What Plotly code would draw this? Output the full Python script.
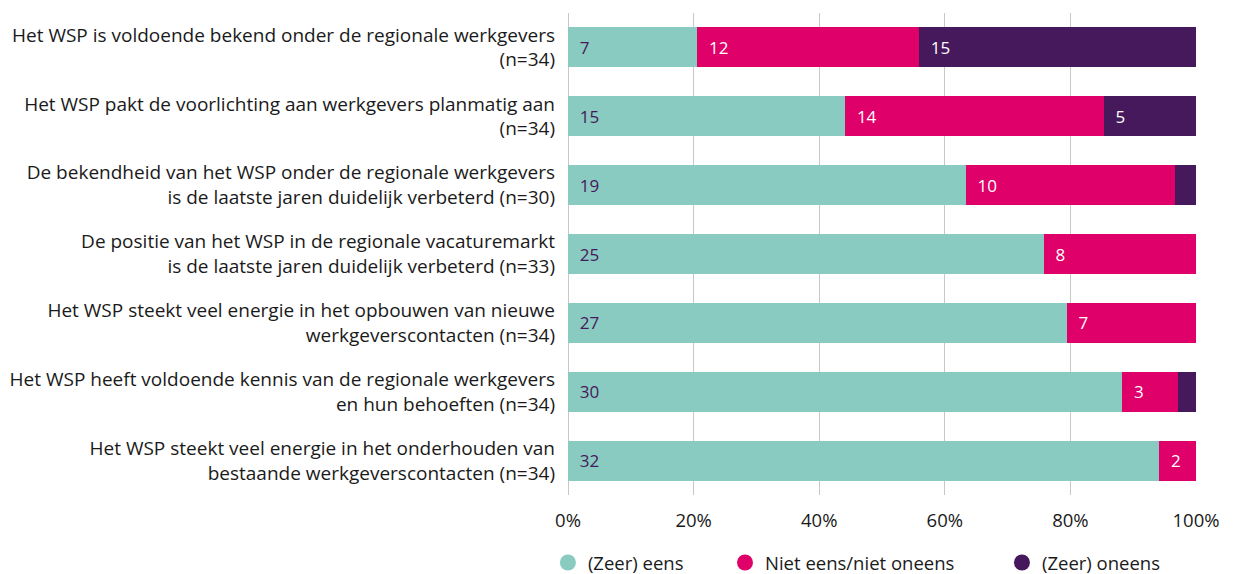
import plotly.graph_objects as go

categories = [
    "Het WSP is voldoende bekend onder de regionale werkgevers<br>(n=34)",
    "Het WSP pakt de voorlichting aan werkgevers planmatig aan<br>(n=34)",
    "De bekendheid van het WSP onder de regionale werkgevers<br>is de laatste jaren duidelijk verbeterd (n=30)",
    "De positie van het WSP in de regionale vacaturemarkt<br>is de laatste jaren duidelijk verbeterd (n=33)",
    "Het WSP steekt veel energie in het opbouwen van nieuwe<br>werkgeverscontacten (n=34)",
    "Het WSP heeft voldoende kennis van de regionale werkgevers<br>en hun behoeften (n=34)",
    "Het WSP steekt veel energie in het onderhouden van<br>bestaande werkgeverscontacten (n=34)",
]
eens = [7, 15, 19, 25, 27, 30, 32]
neutraal = [12, 14, 10, 8, 7, 3, 2]
oneens = [15, 5, 1, 0, 0, 1, 0]

tick_vals = [0, 20, 40, 60, 80, 100]
tick_text = ["0%", "20%", "40%", "60%", "80%", "100%"]

series_names = ["(Zeer) eens", "Niet eens/niet oneens", "(Zeer) oneens"]
colors = ["#89CBC0", "#E0006A", "#46185C"]
text_colors = ["#46185C", "#FFFFFF", "#FFFFFF"]
legend_ids = ["legend", "legend2", "legend3"]
legend_x = [-0.032, 0.25, 0.691]

FONT = "Open Sans"
PAD = "\u00a0\u00a0"

fig = go.Figure()
for name, vals, col, tcol, lid in zip(series_names, [eens, neutraal, oneens], colors, text_colors, legend_ids):
    labels = [PAD + str(v) if v > 1 else "" for v in vals]
    fig.add_trace(go.Bar(
        y=categories, x=vals, orientation="h", name=name,
        marker=dict(color=col, line=dict(width=0)),
        text=labels, textposition="inside", insidetextanchor="start",
        textangle=0, constraintext="none",
        textfont=dict(color=tcol, size=17, family=FONT),
        showlegend=False, hoverinfo="skip", width=0.58,
    ))
    fig.add_trace(go.Scatter(
        x=[None], y=[None], mode="markers", name=name,
        marker=dict(color=col, size=20, symbol="circle"),
        showlegend=True, legend=lid,
    ))

legend_common = dict(orientation="h", y=-0.141, yanchor="middle", xanchor="left",
                     font=dict(size=18.5, family=FONT, color="#1a1a1a"),
                     itemsizing="trace", bgcolor="rgba(0,0,0,0)")

fig.update_layout(
    barmode="stack", barnorm="percent",
    width=1229, height=566,
    margin=dict(l=560, r=41, t=5, b=79, autoexpand=False),
    plot_bgcolor="white", paper_bgcolor="white",
    font=dict(family=FONT, size=17, color="#1a1a1a"),
    uniformtext=dict(mode=False),
    legend=dict(x=legend_x[0], **legend_common),
    legend2=dict(x=legend_x[1], **legend_common),
    legend3=dict(x=legend_x[2], **legend_common),
    xaxis=dict(range=[0, 100], tickmode="array", tickvals=tick_vals, ticktext=tick_text,
               showgrid=True, gridcolor="#C8C8C8", gridwidth=1,
               zeroline=True, zerolinecolor="#C8C8C8", zerolinewidth=1,
               showline=False, tickfont=dict(size=18.5, family=FONT), ticklabelstandoff=12,
               automargin=False),
    yaxis=dict(autorange="reversed", showgrid=False, tickfont=dict(size=19, family=FONT),
               ticklabelstandoff=12, showline=False, automargin=False),
)
fig.write_html("out.html")
